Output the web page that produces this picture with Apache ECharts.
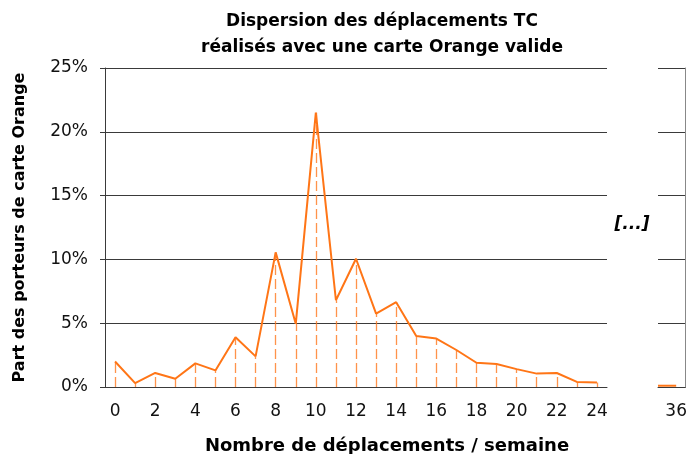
<!DOCTYPE html>
<html>
<head>
<meta charset="utf-8">
<script src="https://cdn.jsdelivr.net/npm/echarts@6/dist/echarts.min.js"></script>
<style>
  html, body { margin: 0; padding: 0; background: #fff; }
  #chart { width: 690px; height: 454px; }
</style>
</head>
<body>
<div id="chart"></div>
<script>
// nombre de déplacements par semaine (0..24), puis la partie isolée à 36
const trips = ["0","1","2","3","4","5","6","7","8","9","10","11","12","13","14","15","16","17","18","19","20","21","22","23","24"];
const share = [2.0, 0.3, 1.1, 0.65, 1.85, 1.3, 3.9, 2.4, 10.55, 4.95, 21.5, 6.8, 10.05, 5.75, 6.65, 4.0, 3.8, 2.9, 1.9, 1.8, 1.4, 1.05, 1.1, 0.4, 0.35];
const tailTrips = [35, 36];
const tailShare = [0.1, 0.1];
const yTicks = [0, 5, 10, 15, 20, 25];

const orange = "#ff7516";
const dropColor = "rgba(255,120,30,0.8)";
const gridColor = "#3a3a3a";
const font = "DejaVu Sans";

const chart = echarts.init(document.getElementById("chart"));

// lignes verticales pointillées sous chaque point
const drops = share.map((v, i) => [
  { coord: [trips[i], 0] },
  { coord: [trips[i], v] },
]);

const option = {
  animation: false,
  textStyle: { fontFamily: font },
  title: {
    text: "Dispersion des déplacements TC\nréalisés avec une carte Orange valide",
    left: 377,
    top: 4,
    textAlign: "center",
    textStyle: { fontSize: 17, fontWeight: "bold", color: "#000", lineHeight: 26, fontFamily: font },
  },
  grid: [
    { left: 105, top: 68, width: 502, height: 319 },
    { left: 658, top: 68, width: 30, height: 319 },
  ],
  xAxis: [
    {
      gridIndex: 0,
      type: "category",
      data: trips,
      boundaryGap: true,
      axisLine: { lineStyle: { color: gridColor } },
      axisTick: { show: false },
      axisLabel: { interval: 1, margin: 16, fontSize: 17, color: "#111", fontFamily: font },
    },
    {
      gridIndex: 1,
      type: "value",
      min: 35,
      max: 36.5,
      interval: 1,
      splitLine: { show: false },
      axisLine: { lineStyle: { color: gridColor } },
      axisTick: { show: false },
      axisLabel: {
        margin: 16, fontSize: 17, color: "#111", fontFamily: font,
        formatter: (v) => (v === 36 ? "36" : ""),
      },
    },
  ],
  yAxis: [
    {
      gridIndex: 0,
      type: "value",
      min: yTicks[0],
      max: yTicks[yTicks.length - 1],
      interval: 5,
      name: "Part des porteurs de carte Orange",
      nameLocation: "middle",
      nameGap: 77,
      nameTextStyle: { fontSize: 16, fontWeight: "bold", color: "#000", fontFamily: font },
      axisLine: { show: true, lineStyle: { color: gridColor } },
      axisTick: { show: true, length: 5, lineStyle: { color: gridColor } },
      axisLabel: { fontSize: 17, color: "#111", margin: 17, formatter: "{value}%", fontFamily: font },
      splitLine: { lineStyle: { color: gridColor } },
    },
    {
      gridIndex: 1,
      type: "value",
      position: "right",
      min: yTicks[0],
      max: yTicks[yTicks.length - 1],
      interval: 5,
      axisLine: { show: true, lineStyle: { color: "#888" } },
      axisTick: { show: false },
      axisLabel: { show: false },
      splitLine: { lineStyle: { color: gridColor } },
    },
  ],
  series: [
    {
      type: "line",
      xAxisIndex: 0,
      yAxisIndex: 0,
      data: share,
      symbol: "none",
      lineStyle: { color: orange, width: 2 },
      markLine: {
        silent: true,
        symbol: "none",
        label: { show: false },
        lineStyle: { color: dropColor, type: [10, 4], width: 1.3 },
        data: drops,
      },
    },
    {
      type: "line",
      xAxisIndex: 1,
      yAxisIndex: 1,
      data: tailTrips.map((t, i) => [t, tailShare[i]]),
      symbol: "none",
      lineStyle: { color: orange, width: 2 },
    },
  ],
  graphic: [
    {
      type: "text",
      x: 632,
      y: 225,
      style: {
        text: "[...]", font: "italic bold 17px 'DejaVu Sans'", fill: "#000",
        textAlign: "center", textVerticalAlign: "middle",
      },
    },
    {
      type: "text",
      x: 387,
      y: 446,
      style: {
        text: "Nombre de déplacements / semaine",
        font: "bold 18px 'DejaVu Sans'",
        fill: "#000",
        textAlign: "center",
        textVerticalAlign: "middle",
      },
    },
  ],
};

chart.setOption(option);
</script>
</body>
</html>
